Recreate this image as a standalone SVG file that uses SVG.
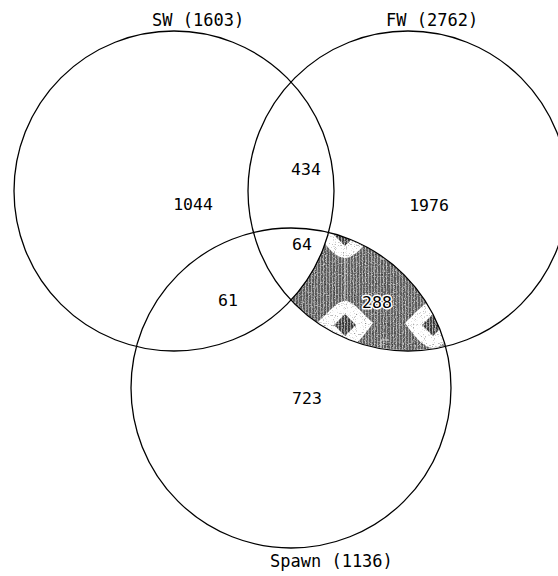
<svg xmlns="http://www.w3.org/2000/svg" width="558" height="576" viewBox="0 0 558 576">
  <style>
    .set { fill: none; stroke: #000; stroke-width: 1.3; }
    .label { font-family: "DejaVu Sans Mono", "Liberation Mono", monospace; font-size: 17px; fill: #000; }
    .count { font-family: "DejaVu Sans Mono", "Liberation Mono", monospace; font-size: 16.5px; fill: #000; text-anchor: middle; }
    .halo { stroke: #fff; stroke-width: 3; paint-order: stroke; stroke-linejoin: round; }
  </style>
  <defs>
    <!-- fine vertical hatching used inside the textured fill -->
    <pattern id="hatch" patternUnits="userSpaceOnUse" width="3" height="3">
      <rect width="3" height="3" fill="#5c5c5c"/>
      <rect x="1" width="1" height="3" fill="#a2a2a2"/>
    </pattern>
    <pattern id="hatchDark" patternUnits="userSpaceOnUse" width="3" height="3">
      <rect width="3" height="3" fill="#3a3a3a"/>
      <rect x="1" width="1" height="3" fill="#9a9a9a"/>
    </pattern>
    <!-- textured tile: grey dither with white rounded diamonds -->
    <pattern id="texture" patternUnits="userSpaceOnUse" x="301" y="190" width="88" height="90">
      <rect width="88" height="90" fill="url(#hatch)"/>
      <line x1="44" y1="0" x2="44" y2="90" stroke="#c0c0c0" stroke-width="2" opacity="0.6"/>
      <path d="M44,21 C52,21 58,30 72,43 C60,60 52,68 44,68 C36,68 28,60 16,43 C30,30 36,21 44,21 Z" fill="#fff"/>
      <polygon points="44,34 55,45 44,56 33,45" fill="url(#hatchDark)"/>
      <rect x="80" y="60" width="12" height="9" fill="none" stroke="#ddd" stroke-width="1"/>
    </pattern>
    <filter id="grain" x="0" y="0" width="1" height="1">
      <feTurbulence type="fractalNoise" baseFrequency="0.9" numOctaves="1" seed="3"/>
      <feColorMatrix type="matrix" values="0 0 0 0 1  0 0 0 0 1  0 0 0 0 1  4 0 0 0 -2.0"/>
    </filter>
    <filter id="grainDark" x="0" y="0" width="1" height="1">
      <feTurbulence type="fractalNoise" baseFrequency="0.9" numOctaves="1" seed="11"/>
      <feColorMatrix type="matrix" values="0 0 0 0 0  0 0 0 0 0  0 0 0 0 0  4 0 0 0 -2.3"/>
    </filter>
    <clipPath id="fwSpawnOnly">
      <path d="M291,300 A160,160 0 0,0 328.2,232.4 A160,160 0 0,1 445.2,345.6 A160,160 0 0,1 291,300 Z"/>
    </clipPath>
  </defs>

  <rect width="558" height="576" fill="#fff"/>

  <!-- FW and Spawn only region, shaded -->
  <g id="region-fw-spawn">
    <path d="M291,300 A160,160 0 0,0 328.2,232.4 A160,160 0 0,1 445.2,345.6 A160,160 0 0,1 291,300 Z" fill="url(#texture)"/>
    <rect x="285" y="225" width="170" height="130" filter="url(#grain)" clip-path="url(#fwSpawnOnly)" opacity="0.6"/>
    <rect x="285" y="225" width="170" height="130" filter="url(#grainDark)" clip-path="url(#fwSpawnOnly)" opacity="0.45"/>
  </g>

  <g id="sw">
    <circle class="set" cx="174" cy="191" r="160"/>
    <text class="label" x="152" y="26">SW (1603)</text>
  </g>
  <g id="fw">
    <circle class="set" cx="408" cy="191" r="160"/>
    <text class="label" x="386" y="26">FW (2762)</text>
  </g>
  <g id="spawn">
    <circle class="set" cx="291" cy="388" r="160"/>
    <text class="label" x="270" y="567">Spawn (1136)</text>
  </g>

  <g id="connectors"/>

  <!-- region counts -->
  <g id="counts">
    <text class="count" x="193" y="210">1044</text>
    <text class="count" x="306" y="175">434</text>
    <text class="count" x="429" y="211">1976</text>
    <text class="count" x="302" y="250">64</text>
    <text class="count" x="228" y="306">61</text>
    <text class="count halo" x="377" y="308">288</text>
    <text class="count" x="307" y="404">723</text>
  </g>
</svg>
